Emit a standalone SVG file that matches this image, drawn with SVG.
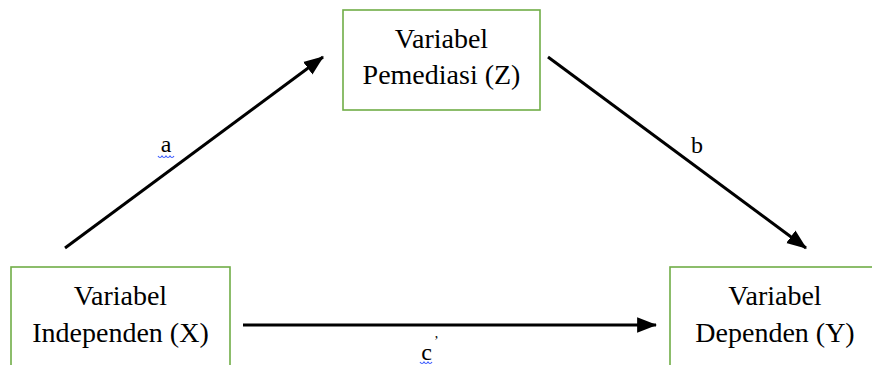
<svg xmlns="http://www.w3.org/2000/svg" width="872" height="365" viewBox="0 0 872 365">
<style>
.box{fill:#ffffff;stroke:#70ad47;stroke-width:1.6}
.t{font-family:'Liberation Serif','Times New Roman',serif;font-size:28px;fill:#000;text-anchor:middle}
.lbl{font-family:'Liberation Serif','Times New Roman',serif;font-size:24px;fill:#000;text-anchor:middle}
.edge{stroke:#000;stroke-width:3;fill:none;marker-end:url(#ah)}
.wavy{stroke:#3b5bff;stroke-width:1.2;fill:none}
</style>
<defs>
<marker id="ah" markerUnits="userSpaceOnUse" markerWidth="20" markerHeight="16" refX="17" refY="7" orient="auto" viewBox="0 0 18 14">
<path d="M0,0 L18,7 L0,14 Z" fill="#000"/>
</marker>
</defs>
<rect width="872" height="365" fill="#ffffff"/>
<g id="node-z">
<rect class="box" x="343" y="10" width="197" height="100"/>
<text class="t" x="441.5" y="48">Variabel</text>
<text class="t" x="441.5" y="84">Pemediasi (Z)</text>
</g>
<g id="node-x">
<rect class="box" x="11" y="267" width="219" height="110"/>
<text class="t" x="120.5" y="305">Variabel</text>
<text class="t" x="120.5" y="342">Independen (X)</text>
</g>
<g id="node-y">
<rect class="box" x="670" y="267" width="210" height="110"/>
<text class="t" x="775" y="305">Variabel</text>
<text class="t" x="775" y="342">Dependen (Y)</text>
</g>
<g id="connectors">
<line class="edge" x1="65" y1="248" x2="323" y2="57"/>
<line class="edge" x1="548" y1="57" x2="806" y2="248"/>
<line class="edge" x1="243" y1="325" x2="656" y2="325"/>
<text class="lbl" x="166" y="152">a</text>
<path class="wavy" d="M158,156 q2,3 4,0 q2,3 4,0 q2,3 4,0 q2,3 4,0"/>
<text class="lbl" x="697" y="153">b</text>
<text class="lbl" x="430" y="360">c<tspan font-size="14" dx="2" dy="-14">’</tspan></text>
<path class="wavy" d="M420,362 q2,3 4,0 q2,3 4,0 q2,3 4,0"/>
</g>
</svg>
